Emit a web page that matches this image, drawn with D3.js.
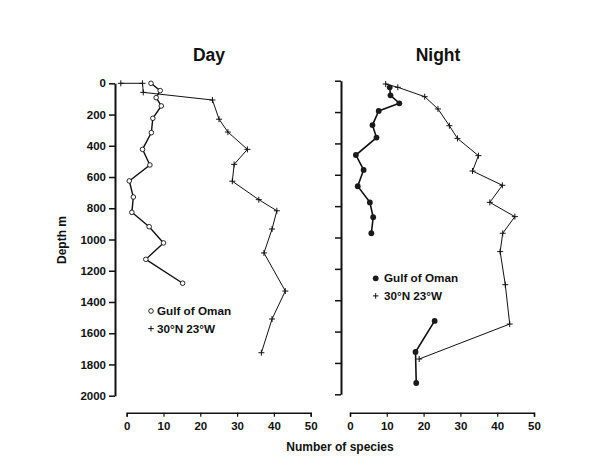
<!DOCTYPE html>
<html>
<head>
<meta charset="utf-8">
<script src="https://cdn.jsdelivr.net/npm/d3@7"></script>
<style>
  body { margin: 0; background: #fff; }
  svg { font-family: 'Liberation Sans', Arial, sans-serif; font-weight: bold; }
  .axis text { font-size: 11.5px; font-weight: bold; fill: #111; }
  .axis path, .axis line { stroke: #111; }
</style>
</head>
<body>
<svg width="589" height="458"></svg>
<script>
// Day, Gulf of Oman (open circles)
let dayGulfSpecies = [6.6, 9.1, 8.0, 9.4, 7.1, 6.7, 4.3, 6.3, 0.7, 1.8, 1.4, 6.1, 10.0, 5.2, 15.2]
let dayGulfDepth = [0, 47, 92, 145, 224, 316, 423, 523, 625, 728, 826, 918, 1022, 1127, 1280]

// Day, 30N 23W (crosses)
let dayAtlSpecies = [-1.6, 4.3, 4.5, 23.3, 25.1, 27.5, 32.8, 29.2, 28.7, 35.9, 40.8, 39.5, 37.3, 43.1, 39.5, 36.6]
let dayAtlDepth = [0, 0, 58, 107, 230, 312, 423, 519, 627, 745, 816, 933, 1086, 1330, 1509, 1725]

// Night, Gulf of Oman (filled circles)
let nightGulfSpecies = [10.8, 11.0, 13.4, 7.8, 6.1, 7.2, 1.6, 3.7, 2.1, 5.4, 6.3, 5.8]
let nightGulfDepth = [42, 93, 144, 193, 283, 363, 474, 569, 673, 776, 871, 973]
let nightGulfDeepSpecies = [23.0, 17.8, 18.0]
let nightGulfDeepDepth = [1532, 1730, 1928]

// Night, 30N 23W (crosses)
let nightAtlSpecies = [9.7, 13.0, 20.3, 23.9, 27.0, 29.2, 34.9, 33.3, 41.4, 38.0, 44.8, 41.5, 40.8, 42.2, 43.4, 18.8]
let nightAtlDepth = [21, 42, 102, 180, 287, 368, 478, 576, 667, 776, 867, 973, 1090, 1301, 1552, 1775]

let depthTicks = [0, 200, 400, 600, 800, 1000, 1200, 1400, 1600, 1800, 2000]
let speciesTicks = [0, 10, 20, 30, 40, 50]
let legendLabels = ['Gulf of Oman', '30\u00b0N 23\u00b0W']

function zip(xs, ys) {
  return xs.map((v, i) => ({ s: v, d: ys[i] }))
}

function crossPath(x, y, r) {
  return 'M' + (x - r) + ',' + y + 'h' + (2 * r) + 'M' + x + ',' + (y - r) + 'v' + (2 * r)
}

function main() {
  let svg = d3.select('svg')

  let panels = [
    { title: 'Day', yAxisX: 115, xRange: [126.7, 310.7], yRange: [83.3, 395.7], labels: true, titleX: 209 },
    { title: 'Night', yAxisX: 341, xRange: [350, 534], yRange: [80.7, 394.3], labels: false, titleX: 438 }
  ]

  panels.forEach(p => {
    p.x = d3.scaleLinear().domain([0, 50]).range(p.xRange)
    p.y = d3.scaleLinear().domain([0, 2000]).range(p.yRange)

    // y axis
    let ya = svg.append('g')
      .attr('class', 'axis')
      .attr('transform', 'translate(' + p.yAxisX + ',0)')
      .call(d3.axisLeft(p.y).tickValues(depthTicks).tickSize(6).tickSizeOuter(0)
        .tickFormat(p.labels ? d3.format('d') : ''))
    ya.select('.domain').attr('stroke-width', 2)
    ya.selectAll('.tick line').attr('stroke-width', 1.5)
    ya.selectAll('.tick text').attr('x', -9)

    // x axis
    let xa = svg.append('g')
      .attr('class', 'axis')
      .attr('transform', 'translate(0,412.7)')
      .call(d3.axisBottom(p.x).tickValues(speciesTicks).tickSize(4).tickSizeOuter(4))
    xa.select('.domain').attr('stroke-width', 1.5)
    xa.selectAll('.tick line').attr('stroke-width', 1.2)
    xa.selectAll('.tick text').attr('y', 9)

    svg.append('text')
      .attr('x', p.titleX)
      .attr('y', 61)
      .attr('text-anchor', 'middle')
      .attr('font-size', 17.5)
      .attr('fill', '#111')
      .text(p.title)
  })

  let day = panels[0], night = panels[1]

  let line = p => d3.line().x(d => p.x(d.s)).y(d => p.y(d.d))

  // Day crosses
  let dayAtl = zip(dayAtlSpecies, dayAtlDepth)
  svg.append('path').datum(dayAtl)
    .attr('d', line(day)).attr('fill', 'none').attr('stroke', '#111').attr('stroke-width', 1)
  svg.append('g').selectAll('path').data(dayAtl).enter().append('path')
    .attr('d', d => crossPath(day.x(d.s), day.y(d.d), 3))
    .attr('stroke', '#111').attr('stroke-width', 1)

  // Day open circles
  let dayGulf = zip(dayGulfSpecies, dayGulfDepth)
  svg.append('path').datum(dayGulf)
    .attr('d', line(day)).attr('fill', 'none').attr('stroke', '#111').attr('stroke-width', 1.4)
  svg.append('g').selectAll('circle').data(dayGulf).enter().append('circle')
    .attr('cx', d => day.x(d.s)).attr('cy', d => day.y(d.d)).attr('r', 2.3)
    .attr('fill', '#fff').attr('stroke', '#111').attr('stroke-width', 0.9)

  // Night crosses
  let nightAtl = zip(nightAtlSpecies, nightAtlDepth)
  svg.append('path').datum(nightAtl)
    .attr('d', line(night)).attr('fill', 'none').attr('stroke', '#111').attr('stroke-width', 1)
  svg.append('g').selectAll('path').data(nightAtl).enter().append('path')
    .attr('d', d => crossPath(night.x(d.s), night.y(d.d), 3))
    .attr('stroke', '#111').attr('stroke-width', 1)

  // Night filled circles (two separate segments)
  ;[zip(nightGulfSpecies, nightGulfDepth), zip(nightGulfDeepSpecies, nightGulfDeepDepth)].forEach(seg => {
    svg.append('path').datum(seg)
      .attr('d', line(night)).attr('fill', 'none').attr('stroke', '#111').attr('stroke-width', 1.6)
    svg.append('g').selectAll('circle').data(seg).enter().append('circle')
      .attr('cx', d => night.x(d.s)).attr('cy', d => night.y(d.d)).attr('r', 2.9)
      .attr('fill', '#1a1a1a')
  })

  // Legends
  let legends = [
    { x: 151, y: 311, tx: 157, filled: false },
    { x: 375.7, y: 278.3, tx: 384, filled: true }
  ]
  legends.forEach(l => {
    svg.append('circle')
      .attr('cx', l.x).attr('cy', l.y).attr('r', l.filled ? 2.9 : 2.3)
      .attr('fill', l.filled ? '#1a1a1a' : '#fff')
      .attr('stroke', l.filled ? 'none' : '#111').attr('stroke-width', 0.9)
    svg.append('path')
      .attr('d', crossPath(l.x, l.y + 17.6, 2.8))
      .attr('stroke', '#111').attr('stroke-width', 1)
    legendLabels.forEach((t, i) => {
      svg.append('text')
        .attr('x', l.tx).attr('y', l.y + 3.8 + i * 17.8)
        .attr('font-size', 11.7).attr('fill', '#111')
        .text(t)
    })
  })

  // Axis titles
  svg.append('text')
    .attr('transform', 'translate(66,240) rotate(-90)')
    .attr('text-anchor', 'middle')
    .attr('font-size', 12).attr('fill', '#111')
    .text('Depth m')

  svg.append('text')
    .attr('x', 340).attr('y', 450.7)
    .attr('text-anchor', 'middle')
    .attr('font-size', 12).attr('fill', '#111')
    .text('Number of species')
}

main()
</script>
</body>
</html>
